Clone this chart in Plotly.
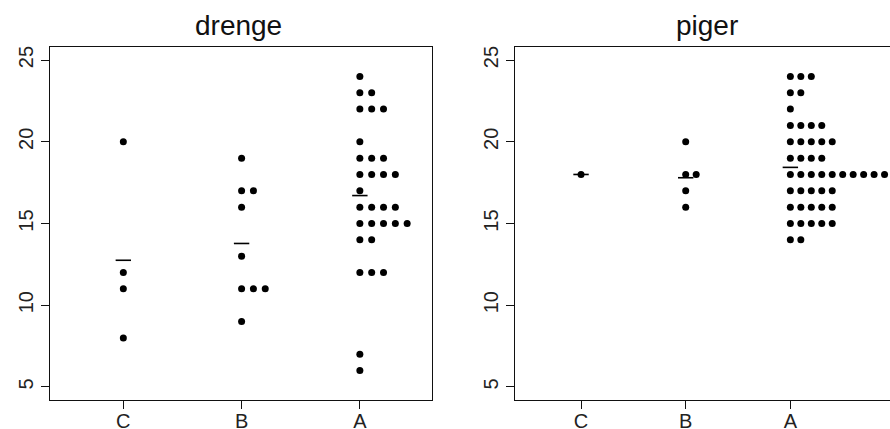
import numpy as np
import plotly.graph_objects as go

# ---- data -------------------------------------------------------------
groups = ["C", "B", "A"]
group_pos = [1, 2, 3]

drenge_C = [20, 12, 11, 8]
drenge_B = [19, 17, 17, 16, 13, 11, 11, 11, 9]
drenge_A = [24, 23, 23, 22, 22, 22, 20, 19, 19, 19, 18, 18, 18, 18, 17,
            16, 16, 16, 16, 15, 15, 15, 15, 15, 14, 14, 12, 12, 12, 7, 6]

piger_C = [18]
piger_B = [20, 18, 18, 17, 16]
piger_A = [24, 24, 24, 23, 23, 22, 21, 21, 21, 21, 20, 20, 20, 20, 20,
           19, 19, 19, 19, 18, 18, 18, 18, 18, 18, 18, 18, 18, 18,
           17, 17, 17, 17, 17, 16, 16, 16, 16, 16, 15, 15, 15, 15, 15, 14, 14]

panel_titles = ["drenge", "piger"]
y_ticks = [5, 10, 15, 20, 25]

# ---- figure -------------------------------------------------------------
W, H = 890, 429
FONT = "Liberation Sans, Arial, Helvetica, sans-serif"
STEP = 0.1  # horizontal stacking step (x-units)


def stack(values, center):
    seen = {}
    xs, ys = [], []
    for v in values:
        k = seen.get(v, 0)
        seen[v] = k + 1
        xs.append(center + STEP * k)
        ys.append(v)
    return xs, ys


fig = go.Figure()
panels = [[drenge_C, drenge_B, drenge_A], [piger_C, piger_B, piger_A]]
for p, data in enumerate(panels):
    xa = "x" if p == 0 else "x2"
    ya = "y" if p == 0 else "y2"
    for vals, pos in zip(data, group_pos):
        xs, ys = stack(vals, pos)
        fig.add_trace(go.Scatter(x=xs, y=ys, mode="markers", xaxis=xa, yaxis=ya,
                                 marker=dict(size=7, color="black"),
                                 showlegend=False, hoverinfo="y"))
        fig.add_trace(go.Scatter(x=[pos], y=[float(np.mean(vals))], mode="markers",
                                 xaxis=xa, yaxis=ya,
                                 marker=dict(symbol="line-ew", size=11,
                                             line=dict(width=1.6, color="black")),
                                 showlegend=False, hoverinfo="y"))

line_col = "#111111"
common_x = dict(tickmode="array", tickvals=group_pos, ticktext=groups,
                ticks="outside", ticklen=8, tickwidth=1.2, tickcolor=line_col,
                showline=True, linecolor=line_col, linewidth=1.3,
                showgrid=False, zeroline=False, automargin=False,
                ticklabelstandoff=-5,
                tickfont=dict(family=FONT, size=20, color="#222222"))
common_y = dict(tickmode="array", tickvals=y_ticks, ticktext=[str(t) for t in y_ticks],
                range=[4.2, 25.8], ticks="outside", ticklen=8, tickwidth=1.2,
                tickcolor=line_col, showline=True, linecolor=line_col, linewidth=1.3,
                showgrid=False, zeroline=False, automargin=False, tickangle=-90,
                tickfont=dict(family=FONT, size=20, color="#222222"))

ydom = [29 / H, 382 / H]
fig.update_layout(
    width=W, height=H,
    margin=dict(l=0, r=0, t=0, b=0),
    paper_bgcolor="white", plot_bgcolor="white",
    xaxis=dict(common_x, domain=[50 / W, 432 / W], range=[0.38, 3.61], mirror=True, anchor="y"),
    yaxis=dict(common_y, domain=ydom, mirror=True, anchor="x"),
    xaxis2=dict(common_x, domain=[515 / W, 1.0], range=[0.369, 3.952], mirror=True, anchor="y2"),
    yaxis2=dict(common_y, domain=ydom, mirror=False, anchor="x2"),
    annotations=[
        dict(text=panel_titles[0], x=238 / W, y=(H - 26) / H, xref="paper", yref="paper",
             xanchor="center", yanchor="middle", showarrow=False,
             font=dict(family=FONT, size=28, color="#111111")),
        dict(text=panel_titles[1], x=707 / W, y=(H - 26) / H, xref="paper", yref="paper",
             xanchor="center", yanchor="middle", showarrow=False,
             font=dict(family=FONT, size=28, color="#111111")),
    ],
)

fig.write_html("out.html", config={"displayModeBar": False},
               post_script="document.body.style.margin='0';document.body.style.overflow='hidden';")
